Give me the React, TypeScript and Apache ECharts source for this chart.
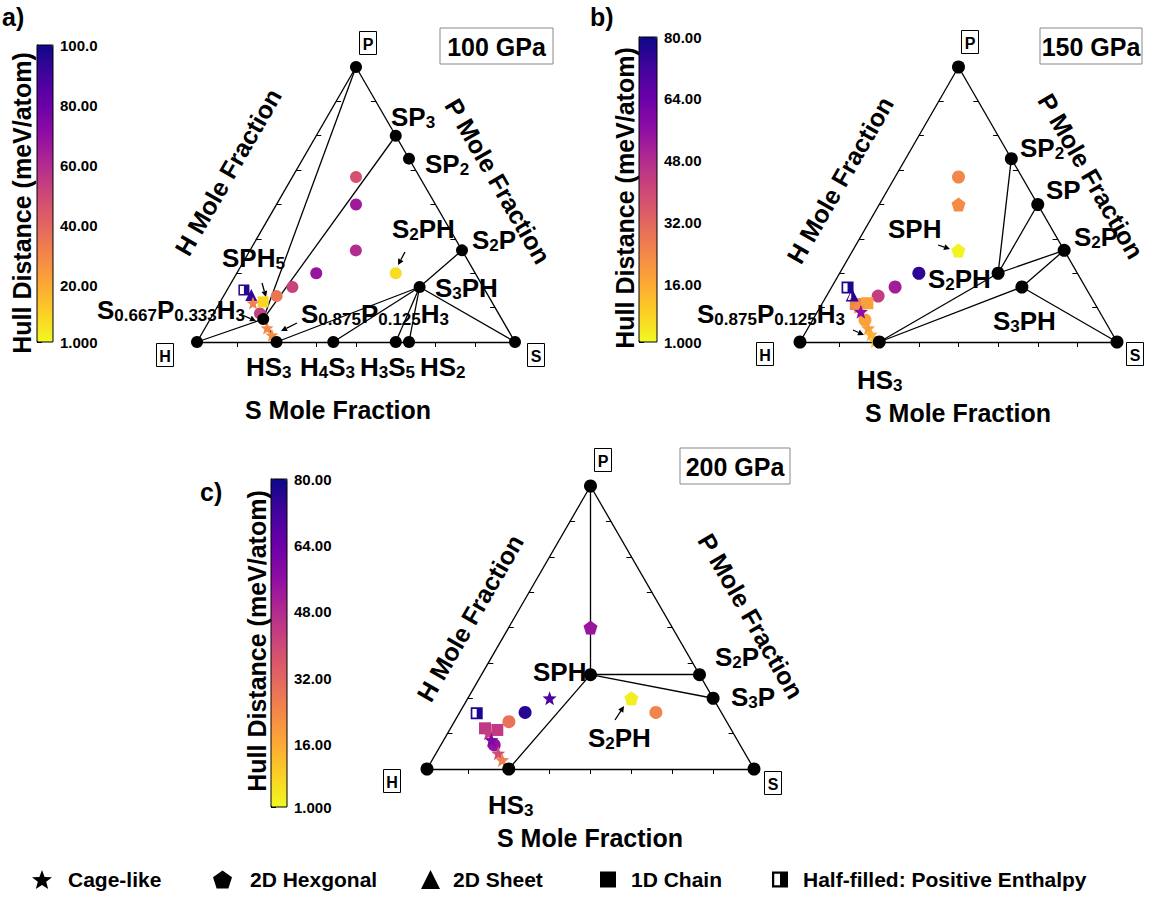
import React, { useEffect, useRef } from 'react';
import * as echarts from 'echarts';

const FONT = 'Arial, "Liberation Sans", Helvetica, sans-serif';
const SQ3 = Math.sqrt(3) / 2;

// colour scale (low hull distance -> high)
const hullColors = ['#f0f921', '#fcce25', '#fca636', '#f2844b', '#e16462', '#cc4778', '#b12a90', '#8f0da4', '#6a00a8', '#41049d', '#0d0887'];

// ---------- Panel a : 100 GPa ----------
const hullRangeA = [1, 100];
const hullTicksA = [1, 20, 40, 60, 80, 100];
// [name, S fraction, P fraction]
const phasesA: [string, number, number][] = [
  ['H', 0, 0], ['S', 1, 0], ['P', 0, 1], ['HS3', 0.25, 0], ['H4S3', 3 / 7, 0], ['H3S5', 5 / 8, 0], ['HS2', 2 / 3, 0],
  ['SP3', 0.25, 0.75], ['SP2', 1 / 3, 2 / 3], ['S2P', 2 / 3, 1 / 3], ['S3PH', 0.6, 0.2], ['S0.667P0.333H3', 1 / 6, 1 / 12],
];
const tiesA: [string, string][] = [
  ['H', 'P'], ['P', 'S'], ['H', 'S'], ['P', 'S0.667P0.333H3'], ['SP3', 'S0.667P0.333H3'], ['H', 'S0.667P0.333H3'],
  ['S0.667P0.333H3', 'HS3'], ['HS3', 'S3PH'], ['H4S3', 'S3PH'], ['H3S5', 'S3PH'], ['HS2', 'S3PH'], ['S3PH', 'S2P'], ['S3PH', 'S'],
];
// [S fraction, P fraction, hull distance meV/atom]
const circlesA = [[0.2, 0.6, 47], [0.25, 0.5, 66], [0.333, 0.333, 60], [0.25, 0.25, 68], [0.2, 0.2, 52], [0.167, 0.167, 35], [0.5, 0.25, 8], [0.146, 0.104, 53]];
const starsA = [[0.105, 0.142, 32], [0.195, 0.051, 30], [0.223, 0.025, 28]];
const pentagonsA: number[][] = [];
const trianglesA = [[0.085, 0.171, 93]];
const squaresA = [[0.135, 0.146, 9]];
const halfSquaresA = [[0.053, 0.189, 95]];
const halfTrianglesA: number[][] = [];

// ---------- Panel b : 150 GPa ----------
const hullRangeB = [1, 80];
const hullTicksB = [1, 16, 32, 48, 64, 80];
const phasesB: [string, number, number][] = [
  ['H', 0, 0], ['S', 1, 0], ['P', 0, 1], ['HS3', 0.25, 0], ['SP2', 1 / 3, 2 / 3], ['SP', 0.5, 0.5], ['S2P', 2 / 3, 1 / 3],
  ['S2PH', 0.5, 0.25], ['S3PH', 0.6, 0.2],
];
const tiesB: [string, string][] = [
  ['H', 'P'], ['P', 'S'], ['H', 'S'], ['HS3', 'S2PH'], ['HS3', 'S3PH'], ['S2PH', 'SP2'], ['S2PH', 'SP'], ['S2PH', 'S2P'],
  ['S3PH', 'S2P'], ['S3PH', 'S'],
];
const circlesB = [[0.2, 0.6, 24], [0.25, 0.25, 75], [0.2, 0.2, 52], [0.163, 0.167, 43], [0.165, 0.08, 18]];
const starsB = [[0.12, 0.127, 22], [0.137, 0.11, 57], [0.19, 0.05, 19], [0.21, 0.028, 15], [0.235, 0.004, 12]];
const pentagonsB = [[0.25, 0.5, 23], [0.333, 0.333, 2]];
const trianglesB: number[][] = [];
const squaresB = [[0.107, 0.138, 25], [0.142, 0.141, 18]];
const halfSquaresB = [[0.051, 0.198, 78]];
const halfTrianglesB = [[0.079, 0.171, 76]];

// ---------- Panel c : 200 GPa ----------
const hullRangeC = [1, 80];
const hullTicksC = [1, 16, 32, 48, 64, 80];
const phasesC: [string, number, number][] = [
  ['H', 0, 0], ['S', 1, 0], ['P', 0, 1], ['HS3', 0.25, 0], ['SPH', 1 / 3, 1 / 3], ['S2P', 2 / 3, 1 / 3], ['S3P', 0.75, 0.25],
];
const tiesC: [string, string][] = [
  ['H', 'P'], ['P', 'S'], ['H', 'S'], ['P', 'SPH'], ['SPH', 'S2P'], ['SPH', 'S3P'], ['SPH', 'HS3'],
];
const circlesC = [[0.6, 0.2, 25], [0.2, 0.2, 76], [0.167, 0.167, 29], [0.163, 0.085, 55]];
const starsC = [[0.25, 0.25, 70], [0.1245, 0.126, 43], [0.146, 0.1025, 60], [0.19, 0.0555, 39], [0.214, 0.032, 26]];
const pentagonsC = [[0.25, 0.5, 54], [0.5, 0.25, 3]];
const trianglesC: number[][] = [];
const squaresC = [[0.1055, 0.1438, 44], [0.146, 0.138, 44]];
const halfSquaresC = [[0.0535, 0.197, 78]];
const halfTrianglesC: number[][] = [];

// edge tick fractions
const edgeTicks = [0.125, 0.25, 0.375, 0.5, 0.625, 0.75, 0.875];

// ---------- symbols ----------
const STAR = 'path://M5,0L6.23,3.3L9.76,3.45L7,5.65L7.94,9.05L5,7.1L2.06,9.05L3,5.65L0.24,3.45L3.77,3.3Z';
const PENTAGON = 'path://M5,0L9.76,3.45L7.94,9.05L2.06,9.05L0.24,3.45Z';
const HALF_SQUARE = 'path://M0,0L10,0L10,10L0,10Z M1.4,1.4L1.4,8.6L5,8.6L5,1.4Z';
const HALF_TRIANGLE = 'path://M5,0L10,10L0,10Z M4.3,2.4L1.5,8.8L4.3,8.8Z';

const toXY = (s: number, p: number) => [s + p / 2, p * SQ3];

const RICH = {
  m: { fontSize: 26, fontWeight: 'bold', fontFamily: FONT, fill: '#000', lineHeight: 27, verticalAlign: 'top' },
  s: { fontSize: 17, fontWeight: 'bold', fontFamily: FONT, fill: '#000', lineHeight: 10, verticalAlign: 'bottom' },
};

const panels = [
  {
    grid: { left: 197, top: 67, width: 318, height: 275 }, bar: { left: 37, top: 45, width: 16, height: 297 },
    range: hullRangeA, ticks: hullTicksA, phases: phasesA, ties: tiesA, dot: 12, csize: 12,
    circles: circlesA, stars: starsA, pentagons: pentagonsA, triangles: trianglesA, squares: squaresA, halfSquares: halfSquaresA, halfTriangles: halfTrianglesA,
  },
  {
    grid: { left: 800, top: 67, width: 317, height: 275 }, bar: { left: 639, top: 37, width: 18, height: 305 },
    range: hullRangeB, ticks: hullTicksB, phases: phasesB, ties: tiesB, dot: 13, csize: 13,
    circles: circlesB, stars: starsB, pentagons: pentagonsB, triangles: trianglesB, squares: squaresB, halfSquares: halfSquaresB, halfTriangles: halfTrianglesB,
  },
  {
    grid: { left: 427, top: 486, width: 327, height: 283 }, bar: { left: 271, top: 479, width: 16, height: 328 },
    range: hullRangeC, ticks: hullTicksC, phases: phasesC, ties: tiesC, dot: 13, csize: 13,
    circles: circlesC, stars: starsC, pentagons: pentagonsC, triangles: trianglesC, squares: squaresC, halfSquares: halfSquaresC, halfTriangles: halfTrianglesC,
  },
];

const phaseLabels: [number, number, string][] = [
  // a
  [391, 117, '{m|SP}{s|3}'], [425, 164, '{m|SP}{s|2}'], [392, 229, '{m|S}{s|2}{m|PH}'], [472, 240, '{m|S}{s|2}{m|P}'],
  [435, 288, '{m|S}{s|3}{m|PH}'], [222, 258, '{m|SPH}{s|5}'], [97, 310, '{m|S}{s|0.667}{m|P}{s|0.333}{m|H}{s|3}'],
  [301, 314, '{m|S}{s|0.875}{m|P}{s|0.125}{m|H}{s|3}'], [246, 367, '{m|HS}{s|3}'], [300, 367, '{m|H}{s|4}{m|S}{s|3}'],
  [360, 367, '{m|H}{s|3}{m|S}{s|5}'], [420, 367, '{m|HS}{s|2}'],
  // b
  [1020, 148, '{m|SP}{s|2}'], [1046, 190, '{m|SP}'], [1074, 237, '{m|S}{s|2}{m|P}'], [888, 229, '{m|SPH}'],
  [928, 279, '{m|S}{s|2}{m|PH}'], [993, 321, '{m|S}{s|3}{m|PH}'], [697, 314, '{m|S}{s|0.875}{m|P}{s|0.125}{m|H}{s|3}'],
  [857, 380, '{m|HS}{s|3}'],
  // c
  [533, 672, '{m|SPH}'], [715, 657, '{m|S}{s|2}{m|P}'], [731, 697, '{m|S}{s|3}{m|P}'], [588, 738, '{m|S}{s|2}{m|PH}'],
  [488, 805, '{m|HS}{s|3}'],
];

const arrows: number[][] = [
  [262, 283, 266, 297], [240, 314, 256, 321], [297, 323, 281, 331], [405, 252, 398, 265],
  [853, 330, 864, 335], [938, 245, 950, 249],
  [615, 720, 624, 706],
];

function arrow(x1: number, y1: number, x2: number, y2: number) {
  const dx = x2 - x1, dy = y2 - y1, L = Math.hypot(dx, dy), ux = dx / L, uy = dy / L;
  const h = 6, w = 3;
  const bx = x2 - ux * h, by = y2 - uy * h;
  return [
    { type: 'line', silent: true, shape: { x1, y1, x2: bx, y2: by }, style: { stroke: '#000', lineWidth: 1.3 } },
    { type: 'polygon', silent: true, shape: { points: [[x2, y2], [bx - uy * w, by + ux * w], [bx + uy * w, by - ux * w]] }, style: { fill: '#000' } },
  ];
}

function text(x: number, y: number, t: string, size: number, opts: any = {}) {
  return {
    type: 'text', x, y, rotation: opts.rotation || 0, silent: true,
    style: { text: t, fill: '#000', font: `bold ${size}px ${FONT}`, align: opts.align || 'center', verticalAlign: 'middle' },
  };
}

function vbox(cx: number, cy: number, t: string) {
  return [
    { type: 'rect', silent: true, shape: { x: cx - 8.5, y: cy - 11.5, width: 17, height: 23 }, style: { fill: '#fff', stroke: '#000', lineWidth: 1 } },
    text(cx, cy + 1, t, 16),
  ];
}

function gpaBox(x: number, y: number, w: number, h: number, t: string) {
  return [
    { type: 'rect', silent: true, shape: { x, y, width: w, height: h }, style: { fill: '#fff', stroke: '#888', lineWidth: 1 } },
    text(x + w / 2, y + h / 2 + 1, t, 25),
  ];
}

const legendItems = [
  { name: 'Cage-like', icon: STAR, left: 32, w: 20, h: 20, pad: 11 },
  { name: '2D Hexgonal', icon: PENTAGON, left: 213, w: 19, h: 19, pad: 13 },
  { name: '2D Sheet', icon: 'triangle', left: 421, w: 19, h: 19, pad: 8 },
  { name: '1D Chain', icon: 'rect', left: 600, w: 16, h: 16, pad: 10 },
  { name: 'Half-filled: Positive Enthalpy', icon: HALF_SQUARE, left: 772, w: 16, h: 16, pad: 10 },
];

function buildOption() {
  const grid: any[] = [], xAxis: any[] = [], yAxis: any[] = [], series: any[] = [], visualMap: any[] = [];
  panels.forEach((pn, i) => {
    grid.push({ ...pn.grid, show: false });
    xAxis.push({ type: 'value', gridIndex: i, min: 0, max: 1, show: false });
    yAxis.push({ type: 'value', gridIndex: i, min: 0, max: SQ3, show: false });
  });
  panels.forEach((pn, i) => {
    const gi = 3 + i;
    grid.push({ ...pn.bar, show: true, borderColor: '#000', borderWidth: 1, backgroundColor: 'transparent', z: 10 });
    xAxis.push({ type: 'value', gridIndex: gi, min: 0, max: 1, show: false });
    yAxis.push({
      type: 'value', gridIndex: gi, position: 'right', min: pn.range[0], max: pn.range[1],
      axisLine: { show: true, lineStyle: { color: '#000', width: 1 } },
      axisTick: { show: true, length: 5, customValues: pn.ticks, lineStyle: { color: '#000' } },
      axisLabel: { customValues: pn.ticks, formatter: (v: number) => Number(v).toPrecision(4), color: '#000', fontSize: 15, fontWeight: 'bold', fontFamily: FONT, margin: 7 },
      splitLine: { show: false },
    });
  });

  panels.forEach((pn, i) => {
    const pos: Record<string, number[]> = {};
    pn.phases.forEach(([n, s, p]) => { pos[n] = toXY(s, p); });
    series.push({
      type: 'lines', coordinateSystem: 'cartesian2d', xAxisIndex: i, yAxisIndex: i, silent: true, clip: false, z: 1,
      lineStyle: { color: '#000', width: 1.3, opacity: 1 },
      data: pn.ties.map(([a, b]) => ({ coords: [pos[a], pos[b]] })),
    });
    const tl = 5 / pn.grid.width;
    const segs: any[] = [];
    edgeTicks.forEach((t) => {
      segs.push({ coords: [[t, 0], [t, -tl]] });
      const L = toXY(0, t);
      segs.push({ coords: [L, [L[0] + tl, L[1]]] });
      const R = toXY(1 - t, t);
      segs.push({ coords: [R, [R[0] - tl, R[1]]] });
    });
    series.push({
      type: 'lines', coordinateSystem: 'cartesian2d', xAxisIndex: i, yAxisIndex: i, silent: true, clip: false, z: 1,
      lineStyle: { color: '#000', width: 1, opacity: 1 }, data: segs,
    });
    const colored: number[] = [];
    const add = (name: string, pts: number[][], symbol: string, size: number) => {
      if (!pts.length) return;
      colored.push(series.length);
      series.push({
        type: 'scatter', name, xAxisIndex: i, yAxisIndex: i, clip: false, silent: true, z: 3, symbol, symbolSize: size,
        itemStyle: { opacity: 1 },
        data: pts.map(([s, p, h]) => [...toXY(s, p), h]),
      });
    };
    add('circles', pn.circles, 'circle', pn.csize);
    add('2D Hexgonal', pn.pentagons, PENTAGON, pn.csize + 1);
    add('2D Sheet', pn.triangles, 'triangle', pn.csize);
    add('1D Chain', pn.squares, 'rect', pn.csize - 1);
    add('Cage-like', pn.stars, STAR, pn.csize + 1);
    add('Half-filled: Positive Enthalpy', pn.halfSquares, HALF_SQUARE, pn.csize - 1);
    add('Half-filled: Positive Enthalpy', pn.halfTriangles, HALF_TRIANGLE, pn.csize);
    series.push({
      type: 'scatter', name: 'phases', xAxisIndex: i, yAxisIndex: i, clip: false, silent: true, z: 4, symbol: 'circle',
      symbolSize: pn.dot, itemStyle: { color: '#000', opacity: 1 },
      data: pn.phases.map(([, s, p]) => toXY(s, p)),
    });
    visualMap.push({
      type: 'continuous', seriesIndex: colored, dimension: 2, min: pn.range[0], max: pn.range[1],
      inRange: { color: hullColors }, left: pn.bar.left, top: pn.bar.top, itemWidth: pn.bar.width, itemHeight: pn.bar.height,
      padding: 0, calculable: false, hoverLink: false, z: 2,
    });
  });

  const graphic: any[] = [];
  graphic.push(text(2, 17, 'a)', 25, { align: 'left' }), text(590, 17, 'b)', 25, { align: 'left' }), text(200, 492, 'c)', 25, { align: 'left' }));
  graphic.push(...gpaBox(440, 28, 113, 36, '100 GPa'), ...gpaBox(1040, 28, 102, 36, '150 GPa'), ...gpaBox(680, 448, 110, 36, '200 GPa'));
  graphic.push(...vbox(368, 43, 'P'), ...vbox(165, 355, 'H'), ...vbox(536, 355, 'S'));
  graphic.push(...vbox(970, 42, 'P'), ...vbox(765, 354, 'H'), ...vbox(1135, 354, 'S'));
  graphic.push(...vbox(603, 460, 'P'), ...vbox(392, 781, 'H'), ...vbox(773, 783, 'S'));
  const r60 = Math.PI / 3;
  graphic.push(
    text(228, 172, 'H Mole Fraction', 25, { rotation: r60 }), text(498, 181, 'P Mole Fraction', 25, { rotation: -r60 }), text(338, 410, 'S Mole Fraction', 25),
    text(840, 180, 'H Mole Fraction', 25, { rotation: r60 }), text(1091, 176, 'P Mole Fraction', 25, { rotation: -r60 }), text(958, 413, 'S Mole Fraction', 25),
    text(470, 618, 'H Mole Fraction', 25, { rotation: r60 }), text(751, 616, 'P Mole Fraction', 25, { rotation: -r60 }), text(590, 838, 'S Mole Fraction', 25),
  );
  const r90 = Math.PI / 2;
  graphic.push(
    text(22, 203, 'Hull Distance (meV/atom)', 25, { rotation: r90 }),
    text(625, 198, 'Hull Distance (meV/atom)', 25, { rotation: r90 }),
    text(257, 641, 'Hull Distance (meV/atom)', 25, { rotation: r90 }),
  );
  phaseLabels.forEach(([x, y, t]) => {
    graphic.push({ type: 'text', x, y, silent: true, style: { text: t, rich: RICH, align: 'left', verticalAlign: 'middle', fill: '#000', font: `bold 26px ${FONT}` } });
  });
  arrows.forEach(([a, b, c, d]) => graphic.push(...arrow(a, b, c, d)));

  const legend = legendItems.map((it) => ({
    data: [{ name: it.name, icon: it.icon, itemStyle: { color: '#000', borderWidth: 0 } }],
    left: it.left, top: 869, itemWidth: it.w, itemHeight: it.h, padding: 0, selectedMode: false,
    textStyle: { fontSize: 21, fontWeight: 'bold', fontFamily: FONT, color: '#000', padding: [0, 0, 0, it.pad] },
  }));

  return { animation: false, backgroundColor: '#fff', grid, xAxis, yAxis, series, visualMap, graphic, legend };
}

export default function App() {
  const ref = useRef<HTMLDivElement>(null);
  useEffect(() => {
    if (!ref.current) return;
    const chart = echarts.init(ref.current, null, { renderer: 'svg' });
    chart.setOption(buildOption() as any);
    return () => chart.dispose();
  }, []);
  return <div ref={ref} style={{ position: 'absolute', left: 0, top: 0, width: 1154, height: 897 }} />;
}
